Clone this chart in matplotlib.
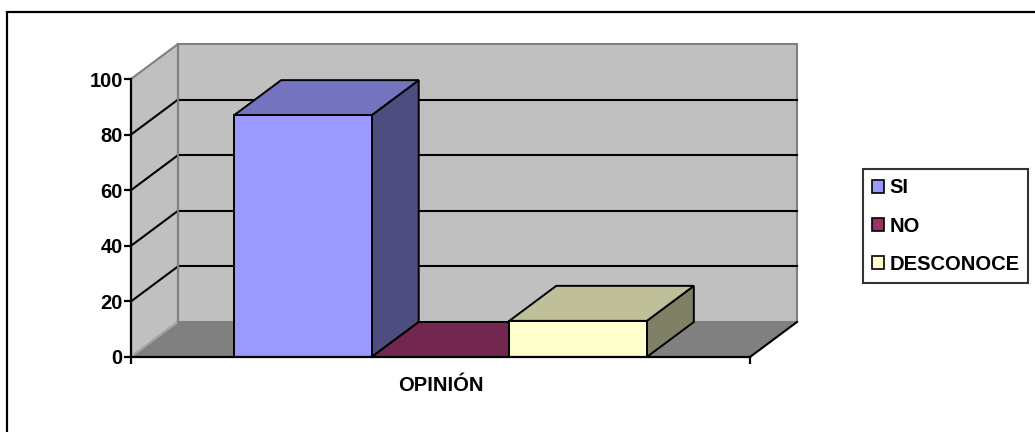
import numpy as np
import matplotlib.pyplot as plt
from matplotlib.patches import Polygon, Rectangle, Patch

plt.rcParams['font.family'] = ['Liberation Sans', 'DejaVu Sans']
plt.rcParams['font.weight'] = 'bold'

# Survey answers (percent)
category = 'OPINIÓN'
series = ['SI', 'NO', 'DESCONOCE']
values = [87, 0, 13]

front_colors = ['#9999FF', '#993366', '#FFFFCC']
top_colors = ['#7373BF', '#732650', '#BFBF99']
side_colors = ['#4D4D80', '#4D1A33', '#808066']

yticks = [0, 20, 40, 60, 80, 100]

W, H = 1035, 432
fig = plt.figure(figsize=(W / 100, H / 100), dpi=100)

# front plane of the 3D box
ax = fig.add_axes([131 / W, (H - 357) / H, 619 / W, 278 / H])
ax.set_xlim(0, 1)
ax.set_ylim(0, 100)
ax.patch.set_visible(False)

# depth offset of the back wall, in data units
DX = 47 / 619
DY = 35 / 2.78

wall = '#C0C0C0'
edge = '#808080'

# back wall and side wall
ax.add_patch(Rectangle((DX, DY), 1, 100, facecolor=wall, edgecolor=edge,
                       lw=1.5, clip_on=False, zorder=1))
ax.add_patch(Polygon([(0, 0), (0, 100), (DX, 100 + DY), (DX, DY)],
                     closed=True, facecolor=wall, edgecolor=edge, lw=1.5,
                     clip_on=False, zorder=1))
# floor
ax.add_patch(Polygon([(0, 0), (1, 0), (1 + DX, DY), (DX, DY)], closed=True,
                     facecolor='#808080', edgecolor='none', clip_on=False,
                     zorder=1))
ax.plot([1, 1 + DX], [0, DY], color='black', lw=1.5, clip_on=False, zorder=2)
ax.plot([0, DX], [0, DY], color='#A8A8A8', lw=1.2, clip_on=False, zorder=2)

# gridlines on both walls
for v in yticks[1:-1]:
    ax.plot([DX, 1 + DX], [v + DY, v + DY], color='black', lw=1.5,
            clip_on=False, zorder=2)
    ax.plot([0, DX], [v, v + DY], color='black', lw=1.5, clip_on=False,
            zorder=2)
ax.plot([DX, DX], [DY, 100 + DY], color=edge, lw=1.5, clip_on=False, zorder=2)

# 3D bars, gap width 150%
gap = 1.5
w = 1 / (len(values) + gap)
for i, v in enumerate(values):
    x0 = gap / 2 * w + i * w
    z = 3 + i
    ax.add_patch(Polygon([(x0 + w, 0), (x0 + w + DX, DY), (x0 + w + DX, v + DY),
                          (x0 + w, v)], closed=True, facecolor=side_colors[i],
                         edgecolor='black', lw=1.4, clip_on=False, zorder=z))
    ax.add_patch(Polygon([(x0, v), (x0 + w, v), (x0 + w + DX, v + DY),
                          (x0 + DX, v + DY)], closed=True, facecolor=top_colors[i],
                         edgecolor='black', lw=1.4, clip_on=False, zorder=z))
    ax.add_patch(Rectangle((x0, 0), w, v, facecolor=front_colors[i],
                           edgecolor='black', lw=1.4, clip_on=False, zorder=z))

# axes
for s in ['top', 'right']:
    ax.spines[s].set_visible(False)
for s in ['left', 'bottom']:
    ax.spines[s].set_linewidth(1.6)
    ax.spines[s].set_zorder(10)
ax.set_yticks(yticks)
ax.tick_params(axis='y', direction='out', length=5, width=1.6, pad=1,
               labelsize=14.5)
ax.set_xticks([0, 1])
ax.set_xticklabels(['', ''])
ax.tick_params(axis='x', which='major', direction='out', length=5, width=1.6)
ax.set_xticks([0.5], minor=True)
ax.set_xticklabels([category], minor=True)
ax.tick_params(axis='x', which='minor', length=0, pad=14, labelsize=14.5)

# legend
handles = [Patch(facecolor=c, edgecolor='black', lw=1.2) for c in front_colors]
leg = fig.legend(handles, series, loc='center left',
                 bbox_to_anchor=(863 / W, 1 - 226 / H), fontsize=14.5,
                 frameon=True, fancybox=False, edgecolor='black',
                 handlelength=0.6, handleheight=0.6, handletextpad=0.25,
                 labelspacing=0.95, borderpad=0.45, borderaxespad=0)
leg.get_frame().set_linewidth(1.5)

# chart area border (right and bottom edges fall outside the image)
fig.add_artist(Rectangle((7 / W, -0.1), 1.2, (H - 12) / H + 0.1,
                         transform=fig.transFigure, fill=False,
                         edgecolor='black', lw=1.6))

fig.savefig('out.png', dpi=100)
